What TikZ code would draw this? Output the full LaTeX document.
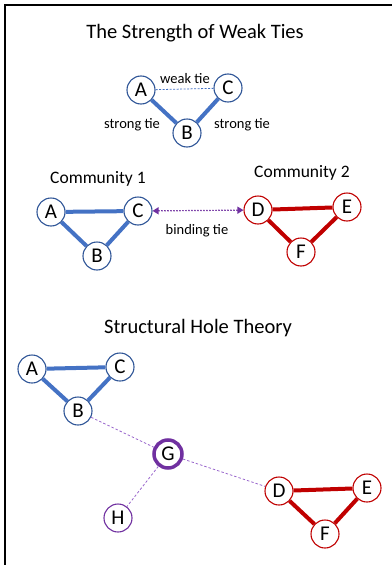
\documentclass[tikz,border=0pt]{standalone}
\usepackage{fontspec}
\setmainfont{Carlito}
\usetikzlibrary{arrows.meta}
\definecolor{nblue}{HTML}{2F5597}
\definecolor{eblue}{HTML}{4472C4}
\definecolor{nred}{HTML}{C00000}
\definecolor{ered}{HTML}{C00000}
\definecolor{npurple}{HTML}{7030A0}
\definecolor{dpurple}{HTML}{9966CC}
\tikzset{
  vtx/.style={circle, draw, fill=white, minimum size=28pt, inner sep=0pt, font=\fontsize{21}{21}\selectfont, line width=1.1pt},
  bvtx/.style={vtx, draw=nblue},
  rvtx/.style={vtx, draw=nred},
  pvtx/.style={vtx, draw=npurple},
  gvtx/.style={vtx, draw=npurple, line width=3.5pt},
  strongb/.style={draw=eblue, line width=4pt},
  strongr/.style={draw=ered, line width=4pt},
  weakb/.style={draw=eblue, line width=0.8pt, dash pattern=on 2pt off 1.5pt},
  weakp/.style={draw=dpurple, line width=0.8pt, dash pattern=on 2.5pt off 2pt},
  title/.style={font=\fontsize{20.5}{24}\selectfont},
  sub/.style={font=\fontsize{17.5}{20}\selectfont},
  lbl/.style={font=\fontsize{14.5}{17}\selectfont},
}
\begin{document}
\begin{tikzpicture}[x=1pt,y=-1pt]
\useasboundingbox (0,0) rectangle (391,565);
\draw[line width=2pt] (5,566) -- (5,5) -- (392,5);

% Section 1
\node[title] (t1) at (195,33) {The Strength of Weak Ties};
\node[bvtx] (a1) at (141,90) {A};
\node[bvtx] (c1) at (228,88) {C};
\node[bvtx] (b1) at (187,133) {B};
\draw[weakb] (a1) -- (c1);
\draw[strongb] (a1) -- (b1);
\draw[strongb] (b1) -- (c1);
\node[lbl] (lw) at (185,79) {weak tie};
\node[lbl] (ls1) at (132,125) {strong tie};
\node[lbl] (ls2) at (242,125) {strong tie};

% Section 2
\node[sub] (k1) at (98,179) {Community 1};
\node[sub] (k2) at (302,173) {Community 2};
\node[bvtx] (a2) at (51,212) {A};
\node[bvtx] (c2) at (138,211) {C};
\node[bvtx] (b2) at (97,256) {B};
\node[rvtx] (d2) at (258,210) {D};
\node[rvtx] (e2) at (347,207) {E};
\node[rvtx] (f2) at (301,252) {F};
\draw[strongb] (a2) -- (c2);
\draw[strongb] (a2) -- (b2);
\draw[strongb] (b2) -- (c2);
\draw[strongr] (d2) -- (e2);
\draw[strongr] (d2) -- (f2);
\draw[strongr] (f2) -- (e2);
\draw[npurple, line width=1.2pt, dash pattern=on 1.5pt off 1.5pt, {Triangle[length=6pt,width=7pt]}-{Triangle[length=6pt,width=7pt]}] (c2) -- (d2);
\node[lbl] (lb) at (197,231) {binding tie};

% Section 3
\node[title] (t3) at (198,328) {Structural Hole Theory};
\node[bvtx] (a3) at (32,369) {A};
\node[bvtx] (c3) at (120,367) {C};
\node[bvtx] (b3) at (78,411) {B};
\node[gvtx] (g3) at (168,454) {G};
\node[pvtx] (h3) at (118,518) {H};
\node[rvtx] (d3) at (279,491) {D};
\node[rvtx] (e3) at (367,488) {E};
\node[rvtx] (f3) at (325,534) {F};
\draw[strongb] (a3) -- (c3);
\draw[strongb] (a3) -- (b3);
\draw[strongb] (b3) -- (c3);
\draw[strongr] (d3) -- (e3);
\draw[strongr] (d3) -- (f3);
\draw[strongr] (f3) -- (e3);
\draw[weakp] (b3) -- (g3);
\draw[weakp] (g3) -- (d3);
\draw[weakp] (g3) -- (h3);
\end{tikzpicture}
\end{document}
